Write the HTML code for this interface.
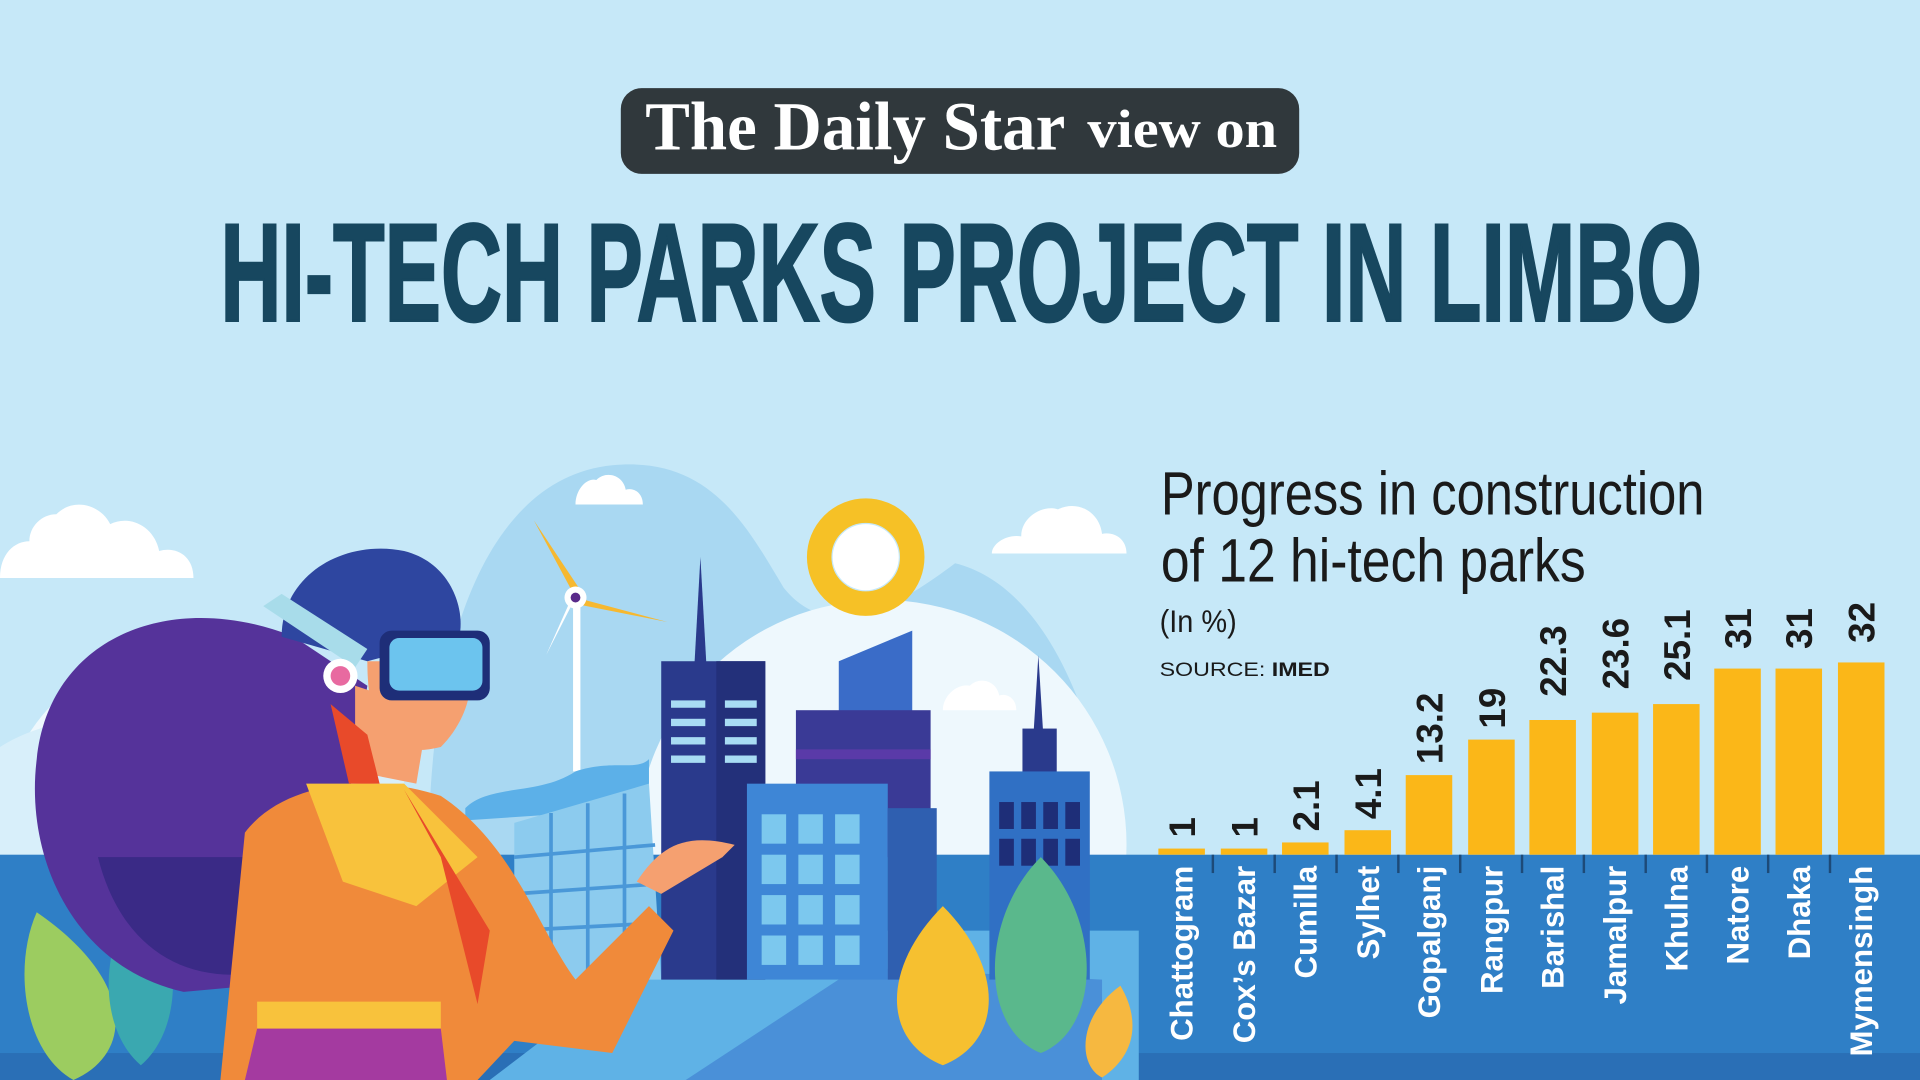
<!DOCTYPE html>
<html><head><meta charset="utf-8"><style>
html,body{margin:0;padding:0;width:1920px;height:1080px;overflow:hidden;background:#c6e8f8}
svg{display:block}
</style></head><body>
<svg width="1920" height="1080" viewBox="0 0 1568 882" xmlns="http://www.w3.org/2000/svg">
<rect width="1568" height="882" fill="#c6e8f8"/>
<rect x="507" y="72" width="554" height="70" rx="17" fill="#30383c"/>
<text x="527" y="122" font-family="Liberation Serif, serif" font-weight="bold" font-size="56" fill="#fff" textLength="343" lengthAdjust="spacingAndGlyphs">The Daily Star</text>
<text x="888" y="120" font-family="Liberation Serif, serif" font-weight="bold" font-size="44" fill="#fff" textLength="155" lengthAdjust="spacingAndGlyphs">view on</text>
<text x="180" y="262" font-family="Liberation Sans, sans-serif" font-weight="bold" font-size="114" fill="#17475f" stroke="#17475f" stroke-width="2" textLength="1210" lengthAdjust="spacingAndGlyphs">HI-TECH PARKS PROJECT IN LIMBO</text>

<path d="M350 700 C350 520 400 390 500 380 C580 372 610 430 640 480 C680 530 740 490 780 460 C860 480 900 600 910 700 Z" fill="#a9d8f2"/>
<circle cx="720" cy="690" r="200" fill="#eef8fd"/>
<circle cx="150" cy="680" r="150" fill="#eef8fd"/>
<path d="M0 610 C80 560 200 600 330 620 L330 700 L0 700 Z" fill="#d8effa"/>
<g fill="#fff">
<path d="M0 472 h158 c0-18-14-26-28-22 c-4-20-24-30-40-22 c-8-16-30-22-44-8 c-12 0-22 10-22 22 c-12 0-24 10-24 30z"/>
<path d="M470 412 h55 c0-10-8-14-14-12 c-2-12-16-16-24-8 c-8-2-17 8-17 20z"/>
<path d="M810 452 h110 c0-12-10-18-20-16 c-2-18-20-28-36-20 c-12-4-30 6-30 22 c-12-2-24 6-24 14z"/>
<path d="M770 580 h60 c0-10-8-14-14-12 c-2-12-16-16-24-8 c-10-2-22 8-22 20z"/>
</g>
<rect x="0" y="698" width="1568" height="184" fill="#2f7fc6"/>
<rect x="0" y="860" width="1568" height="22" fill="#2a6fb6"/>
<path d="M400 882 L560 760 L930 760 L930 882 Z" fill="#5fb2e6"/>
<path d="M560 882 L700 790 L900 800 L900 882 Z" fill="#4a90d8"/>
<circle cx="707" cy="455" r="38" fill="none" stroke="#f6c126" stroke-width="20"/>
<circle cx="707" cy="455" r="27" fill="#fff"/>
<rect x="468" y="490" width="6" height="140" fill="#fff"/>
<path d="M470 488 L436 425 L474 482 Z" fill="#f6b830"/>
<path d="M470 488 L545 508 L474 494 Z" fill="#f6b830"/>
<path d="M470 488 L446 535 L466 490 Z" fill="#fff"/>
<circle cx="470" cy="488" r="9" fill="#fff"/><circle cx="470" cy="488" r="4" fill="#5a2a8a"/>
<path d="M380 660 c20-20 60-10 90-30 c30-10 50 0 60 -10 l0 40 l-150 10z" fill="#5cb0e8"/>
<path d="M420 672 L530 640 L540 800 L420 800 Z" fill="#8ccbee"/>
<g stroke="#4a98d8" stroke-width="3"><line x1="450" y1="664" x2="450" y2="800"/><line x1="480" y1="656" x2="480" y2="800"/><line x1="510" y1="648" x2="510" y2="800"/><line x1="420" y1="700" x2="535" y2="690"/><line x1="420" y1="730" x2="535" y2="722"/><line x1="420" y1="760" x2="535" y2="754"/></g>
<polygon points="572,455 577,545 567,545" fill="#2a3a8c"/>
<rect x="540" y="540" width="85" height="260" fill="#2a3a8c"/>
<rect x="585" y="540" width="40" height="260" fill="#23307a"/>
<g fill="#a8dcf4"><rect x="548" y="572" width="28" height="6"/><rect x="592" y="572" width="26" height="6"/><rect x="548" y="587" width="28" height="6"/><rect x="592" y="587" width="26" height="6"/><rect x="548" y="602" width="28" height="6"/><rect x="592" y="602" width="26" height="6"/><rect x="548" y="617" width="28" height="6"/><rect x="592" y="617" width="26" height="6"/></g>
<polygon points="685,540 745,515 745,700 685,700" fill="#3a6cc8"/>
<rect x="650" y="580" width="110" height="120" fill="#3a3a96"/>
<rect x="650" y="612" width="110" height="8" fill="#5a3aa8"/>
<rect x="610" y="640" width="115" height="160" fill="#3e86d6"/>
<rect x="725" y="660" width="40" height="140" fill="#2f5fb0"/>
<g fill="#7cc8ee"><rect x="622" y="665" width="20" height="24"/><rect x="652" y="665" width="20" height="24"/><rect x="682" y="665" width="20" height="24"/><rect x="622" y="698" width="20" height="24"/><rect x="652" y="698" width="20" height="24"/><rect x="682" y="698" width="20" height="24"/><rect x="622" y="731" width="20" height="24"/><rect x="652" y="731" width="20" height="24"/><rect x="682" y="731" width="20" height="24"/><rect x="622" y="764" width="20" height="24"/><rect x="652" y="764" width="20" height="24"/><rect x="682" y="764" width="20" height="24"/></g>
<polygon points="848,535 852,600 844,600" fill="#2a3a8c"/>
<rect x="835" y="595" width="28" height="40" fill="#2a3a8c"/>
<rect x="808" y="630" width="82" height="170" fill="#3070c4"/>
<g fill="#1e2e78"><rect x="816" y="655" width="12" height="22"/><rect x="834" y="655" width="12" height="22"/><rect x="852" y="655" width="12" height="22"/><rect x="870" y="655" width="12" height="22"/><rect x="816" y="685" width="12" height="22"/><rect x="834" y="685" width="12" height="22"/><rect x="852" y="685" width="12" height="22"/><rect x="870" y="685" width="12" height="22"/></g>
<path d="M770 740 C720 790 720 850 770 870 C820 850 820 790 770 740Z" fill="#f6c030"/>
<path d="M850 700 C800 750 800 840 850 860 C900 840 900 750 850 700Z" fill="#5ab88c"/>
<path d="M915 805 C880 830 880 870 900 880 C930 860 930 830 915 805Z" fill="#f6b840"/>
<path d="M30 745 C10 790 20 860 60 882 C110 860 110 800 30 745Z" fill="#9ccc60"/>
<path d="M115 730 C80 770 80 840 115 870 C150 840 150 770 115 730Z" fill="#3aa8b0"/>
<path d="M240 520 C140 480 40 520 30 620 C20 700 60 790 150 810 L260 800 L300 560 Z" fill="#55339a"/>
<path d="M80 700 C100 780 160 810 230 790 L240 700 Z" fill="#3a2a86"/>
<path d="M180 882 L200 680 C230 640 300 630 360 650 C420 690 440 760 470 800 L530 740 L550 760 L500 860 L420 850 L390 882 Z" fill="#f08a3a"/>
<path d="M250 640 L330 640 L390 700 L340 740 L280 720 Z" fill="#f8c23c"/>
<path d="M330 645 L400 760 L390 820 L360 700 Z" fill="#e84a2a"/>
<rect x="210" y="818" width="150" height="22" fill="#f8c23c"/>
<path d="M200 882 L210 840 L360 840 L365 882 Z" fill="#a43aa0"/>
<path d="M290 560 L290 630 L340 640 L350 580 Z" fill="#f5a070"/>
<path d="M300 540 C300 600 320 620 360 610 C380 590 390 560 380 540 Z" fill="#f5a070"/>
<path d="M270 575 L300 600 L310 640 L285 640 Z" fill="#e84a2a"/>
<path d="M230 520 C230 470 280 440 330 450 C370 460 380 500 375 520 L300 540 Z" fill="#2e46a0"/>
<path d="M215 495 L230 485 L300 530 L290 545 Z" fill="#a8dcea"/>
<rect x="310" y="515" width="90" height="57" rx="10" fill="#1e2e78"/>
<rect x="318" y="521" width="76" height="43" rx="8" fill="#6cc4ee"/>
<circle cx="278" cy="552" r="14" fill="#fff"/><circle cx="278" cy="552" r="8" fill="#e86aa0"/>
<path d="M520 720 C540 690 560 680 600 690 L590 700 L540 730 Z" fill="#f5a070"/>

<g font-family="Liberation Sans, sans-serif">
<text x="948" y="420" font-size="50" fill="#1a1a1a" textLength="444" lengthAdjust="spacingAndGlyphs">Progress in construction</text>
<text x="948" y="475" font-size="50" fill="#1a1a1a" textLength="347" lengthAdjust="spacingAndGlyphs">of 12 hi-tech parks</text>
<text x="947" y="516" font-size="26" fill="#1a1a1a" textLength="63" lengthAdjust="spacingAndGlyphs">(In %)</text>
<text x="947" y="552" font-size="16" fill="#1a1a1a" textLength="139" lengthAdjust="spacingAndGlyphs">SOURCE: <tspan font-weight="bold">IMED</tspan></text>
</g>
<g fill="#fbb718">
<rect x="946" y="693" width="38" height="5"/>
<rect x="997" y="693" width="38" height="5"/>
<rect x="1047" y="688" width="38" height="10"/>
<rect x="1098" y="678" width="38" height="20"/>
<rect x="1148" y="633" width="38" height="65"/>
<rect x="1199" y="604" width="38" height="94"/>
<rect x="1249" y="588" width="38" height="110"/>
<rect x="1300" y="582" width="38" height="116"/>
<rect x="1350" y="575" width="38" height="123"/>
<rect x="1400" y="546" width="38" height="152"/>
<rect x="1450" y="546" width="38" height="152"/>
<rect x="1501" y="541" width="38" height="157"/>
</g>
<g stroke="#1d4a78" stroke-width="2">
<line x1="990.5" y1="698" x2="990.5" y2="713"/><line x1="1041" y1="698" x2="1041" y2="713"/><line x1="1091.5" y1="698" x2="1091.5" y2="713"/><line x1="1142" y1="698" x2="1142" y2="713"/><line x1="1192.5" y1="698" x2="1192.5" y2="713"/><line x1="1243" y1="698" x2="1243" y2="713"/><line x1="1293.5" y1="698" x2="1293.5" y2="713"/><line x1="1344" y1="698" x2="1344" y2="713"/><line x1="1394" y1="698" x2="1394" y2="713"/><line x1="1444" y1="698" x2="1444" y2="713"/><line x1="1494.5" y1="698" x2="1494.5" y2="713"/>
</g>
<g font-family="Liberation Sans, sans-serif" font-weight="bold" font-size="30" fill="#1a1a1a">
<text transform="translate(976,684) rotate(-90)">1</text>
<text transform="translate(1027,684) rotate(-90)">1</text>
<text transform="translate(1077,679) rotate(-90)">2.1</text>
<text transform="translate(1128,669) rotate(-90)">4.1</text>
<text transform="translate(1178,624) rotate(-90)">13.2</text>
<text transform="translate(1229,595) rotate(-90)">19</text>
<text transform="translate(1279,569) rotate(-90)">22.3</text>
<text transform="translate(1330,563) rotate(-90)">23.6</text>
<text transform="translate(1380,556) rotate(-90)">25.1</text>
<text transform="translate(1430,530) rotate(-90)">31</text>
<text transform="translate(1480,530) rotate(-90)">31</text>
<text transform="translate(1531,525) rotate(-90)">32</text>
</g>
<g font-family="Liberation Sans, sans-serif" font-weight="bold" font-size="25.5" fill="#fff" text-anchor="end">
<text transform="translate(974,707) rotate(-90)">Chattogram</text>
<text transform="translate(1025,707) rotate(-90)">Cox’s Bazar</text>
<text transform="translate(1075,707) rotate(-90)">Cumilla</text>
<text transform="translate(1126,707) rotate(-90)">Sylhet</text>
<text transform="translate(1176,707) rotate(-90)">Gopalganj</text>
<text transform="translate(1227,707) rotate(-90)">Rangpur</text>
<text transform="translate(1277,707) rotate(-90)">Barishal</text>
<text transform="translate(1328,707) rotate(-90)">Jamalpur</text>
<text transform="translate(1378,707) rotate(-90)">Khulna</text>
<text transform="translate(1428,707) rotate(-90)">Natore</text>
<text transform="translate(1478,707) rotate(-90)">Dhaka</text>
<text transform="translate(1529,707) rotate(-90)">Mymensingh</text>
</g>
</svg>
</body></html>
